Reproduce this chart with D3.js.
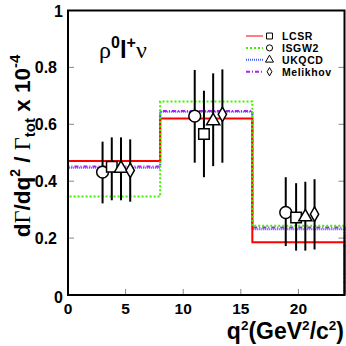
<!DOCTYPE html>
<html>
<head>
<meta charset="utf-8">
<script src="https://cdn.jsdelivr.net/npm/d3@7"></script>
<style>
  body { margin: 0; background: #fff; }
  text { font-family: "Liberation Sans", Arial, sans-serif; font-weight: bold; }
</style>
</head>
<body>
<div id="viz"></div>
<script>
// q^2 bins (GeV^2/c^2)
const binEdges = [0, 8, 16, 24];

// model predictions per bin (x 10^-4)
const lcsr = [0.471, 0.620, 0.185];
const isgw2 = [0.346, 0.680, 0.243];
const ukqcd = [0.447, 0.644, 0.231];
const melikhov = [0.452, 0.647, 0.237];

// measured points, one per model extraction
const circleX = [3.0, 11.0, 18.9];
const circleY = [0.432, 0.629, 0.290];
const circleLo = [0.322, 0.465, 0.172];
const circleHi = [0.539, 0.791, 0.414];

const squareX = [3.8, 11.8, 19.8];
const squareY = [0.451, 0.566, 0.272];
const squareLo = [0.333, 0.414, 0.156];
const squareHi = [0.554, 0.718, 0.393];

const triangleX = [4.6, 12.6, 20.6];
const triangleY = [0.445, 0.612, 0.274];
const triangleLo = [0.333, 0.453, 0.156];
const triangleHi = [0.554, 0.779, 0.398];

const diamondX = [5.4, 13.4, 21.4];
const diamondY = [0.438, 0.635, 0.284];
const diamondLo = [0.328, 0.465, 0.160];
const diamondHi = [0.547, 0.793, 0.407];

const xTicks = [0, 5, 10, 15, 20];
const yTicks = [0, 0.2, 0.4, 0.6, 0.8, 1];
const legendNames = ["LCSR", "ISGW2", "UKQCD", "Melikhov"];

const width = 346;
const height = 346;

const svg = d3.select('#viz').append('svg')
    .attr('width', width)
    .attr('height', height);

const x = d3.scaleLinear().domain([0, 24]).range([68, 344.5]);
const y = d3.scaleLinear().domain([0, 1]).range([295, 10.5]);

// tick marks (inward, grey)
svg.selectAll('.ytick').data(yTicks.slice(1, -1)).enter().append('line')
    .attr('x1', x(0)).attr('x2', x(0) + 6)
    .attr('y1', d => y(d)).attr('y2', d => y(d))
    .attr('stroke', '#888').attr('stroke-width', 1);
svg.selectAll('.ytickr').data(yTicks.slice(1, -1)).enter().append('line')
    .attr('x1', x(24)).attr('x2', x(24) - 6)
    .attr('y1', d => y(d)).attr('y2', d => y(d))
    .attr('stroke', '#888').attr('stroke-width', 1);
svg.selectAll('.xtick').data(xTicks.slice(1)).enter().append('line')
    .attr('x1', d => x(d)).attr('x2', d => x(d))
    .attr('y1', y(0)).attr('y2', y(0) - 6)
    .attr('stroke', '#888').attr('stroke-width', 1);

// histograms
const stepLine = d3.line().x(d => x(d[0])).y(d => y(d[1]));
function steps(vals) {
    const pts = [[binEdges[0], 0]];
    vals.forEach((v, i) => {
        pts.push([binEdges[i], v]);
        pts.push([binEdges[i + 1], v]);
    });
    pts.push([binEdges[binEdges.length - 1], 0]);
    return pts;
}

const models = [
    { vals: melikhov, color: '#aa22ee', dash: '4,2,1,2' },
    { vals: ukqcd, color: '#4455ff', dash: '1,1' },
    { vals: lcsr, color: '#ff0000', dash: null },
    { vals: isgw2, color: '#44ee00', dash: '2,2' }
];
models.forEach(m => {
    svg.append('path')
        .attr('d', stepLine(steps(m.vals)))
        .attr('fill', 'none')
        .attr('stroke', m.color)
        .attr('stroke-width', 2)
        .attr('stroke-dasharray', m.dash);
});

// frame
svg.append('rect')
    .attr('x', x(0)).attr('y', y(1))
    .attr('width', x(24) - x(0)).attr('height', y(0) - y(1))
    .attr('fill', 'none').attr('stroke', '#000').attr('stroke-width', 2);

// data points
const sets = [
    { xs: circleX, ys: circleY, lo: circleLo, hi: circleHi, shape: d3.symbolCircle, size: 110 },
    { xs: squareX, ys: squareY, lo: squareLo, hi: squareHi, shape: d3.symbolSquare, size: 110 },
    { xs: triangleX, ys: triangleY, lo: triangleLo, hi: triangleHi, shape: d3.symbolTriangle, size: 75 },
    { xs: diamondX, ys: diamondY, lo: diamondLo, hi: diamondHi, shape: d3.symbolDiamond, size: 60 }
];
sets.forEach(s => {
    s.xs.forEach((xv, i) => {
        svg.append('line')
            .attr('x1', x(xv)).attr('x2', x(xv))
            .attr('y1', y(s.lo[i])).attr('y2', y(s.hi[i]))
            .attr('stroke', '#000').attr('stroke-width', 2);
    });
});
sets.forEach(s => {
    s.xs.forEach((xv, i) => {
        svg.append('path')
            .attr('d', d3.symbol().type(s.shape).size(s.size)())
            .attr('transform', `translate(${x(xv)},${y(s.ys[i])})`)
            .attr('fill', '#fff').attr('stroke', '#000').attr('stroke-width', 1.5);
    });
});

// tick labels
svg.selectAll('.ylab').data(yTicks).enter().append('text')
    .attr('x', d => (d === 0 || d === 1) ? 63 : 57)
    .attr('y', d => y(d) + 6 + (d === 0 ? 2 : 0))
    .attr('text-anchor', 'end')
    .attr('font-size', 16)
    .text(d => d3.format('~g')(d));
svg.selectAll('.xlab').data(xTicks).enter().append('text')
    .attr('x', d => x(d))
    .attr('y', 314)
    .attr('text-anchor', 'middle')
    .attr('font-size', 15.5)
    .text(d => d);

// axis titles
const xt = svg.append('text')
    .attr('x', 344).attr('y', 339)
    .attr('text-anchor', 'end')
    .attr('font-size', 23);
xt.append('tspan').text('q');
xt.append('tspan').attr('dy', -9).attr('font-size', 13.5).text('2');
xt.append('tspan').attr('dy', 9).text('(GeV');
xt.append('tspan').attr('dy', -9).attr('font-size', 13.5).text('2');
xt.append('tspan').attr('dy', 9).text('/c');
xt.append('tspan').attr('dy', -9).attr('font-size', 13.5).text('2');
xt.append('tspan').attr('dy', 9).text(')');

const yt = svg.append('text')
    .attr('transform', 'translate(30,146) rotate(-90)')
    .attr('text-anchor', 'middle')
    .attr('font-size', 22.5);
yt.append('tspan').text('d');
yt.append('tspan').attr('font-family', '"Liberation Serif", serif').attr('font-weight', 'normal').text('Γ');
yt.append('tspan').text('/dq');
yt.append('tspan').attr('dy', -10).attr('font-size', 14).text('2');
yt.append('tspan').attr('dy', 10).text(' / ');
yt.append('tspan').attr('font-family', '"Liberation Serif", serif').attr('font-weight', 'normal').text('Γ');
yt.append('tspan').attr('dy', 5).attr('font-size', 15).text('tot');
yt.append('tspan').attr('dy', -5).text(' x 10');
yt.append('tspan').attr('dy', -10).attr('font-size', 15).text('-4');

// channel label
const ch = svg.append('text')
    .attr('x', 99).attr('y', 58)
    .attr('font-size', 24);
ch.append('tspan').attr('font-family', '"Liberation Serif", serif').attr('font-weight', 'normal').text('ρ');
ch.append('tspan').attr('dy', -10).attr('font-size', 16).text('0');
ch.append('tspan').attr('dy', 10).text('l');
ch.append('tspan').attr('dy', -10).attr('font-size', 16).text('+');
ch.append('tspan').attr('dy', 10).attr('font-family', '"Liberation Serif", serif').attr('font-weight', 'normal').text('ν');

// legend
const legendModels = [models[2], models[3], models[1], models[0]];
const legendShapes = [d3.symbolSquare, d3.symbolCircle, d3.symbolTriangle, d3.symbolDiamond];
const legendSizes = [35, 30, 28, 20];
legendNames.forEach((name, i) => {
    const ly = 36 + i * 11.9;
    svg.append('line')
        .attr('x1', 246).attr('x2', 263)
        .attr('y1', ly).attr('y2', ly)
        .attr('stroke', legendModels[i].color)
        .attr('stroke-opacity', i === 0 ? 0.5 : 1)
        .attr('stroke-width', 2)
        .attr('stroke-dasharray', legendModels[i].dash);
    svg.append('path')
        .attr('d', d3.symbol().type(legendShapes[i]).size(legendSizes[i])())
        .attr('transform', `translate(269.5,${ly})`)
        .attr('fill', '#fff').attr('stroke', '#000').attr('stroke-width', 1);
    svg.append('text')
        .attr('x', 282).attr('y', ly + 4)
        .attr('font-size', 10.5)
        .attr('letter-spacing', 0.6)
        .text(name);
});
</script>
</body>
</html>
